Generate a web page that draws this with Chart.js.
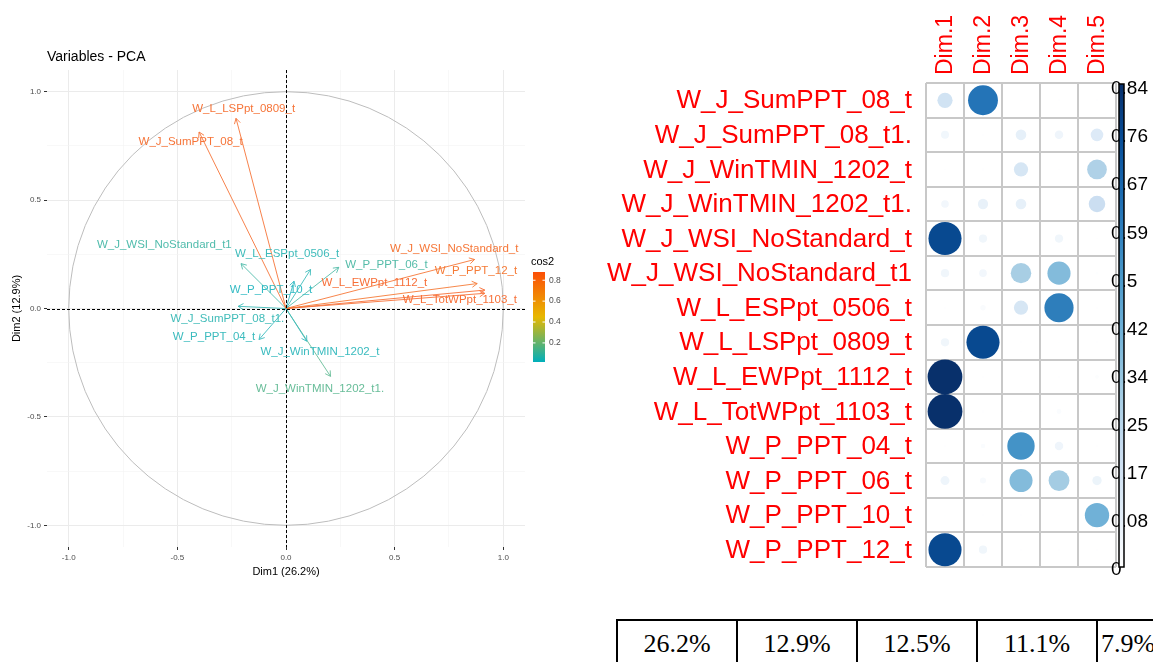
<!DOCTYPE html>
<html><head><meta charset="utf-8">
<script src="https://cdn.jsdelivr.net/npm/chart.js@4.4.0/dist/chart.umd.min.js"></script>
<style>
html,body{margin:0;padding:0;background:#fff;width:1153px;height:662px;overflow:hidden;position:relative}
#pca{position:absolute;left:0;top:0}
#corr{position:absolute;left:600px;top:0}
#var{position:absolute;left:616px;top:619px;width:602px;table-layout:fixed;border-collapse:collapse;font-family:'Liberation Serif','Times New Roman',serif;font-size:26px;color:#000}
#var td{border:2px solid #000;height:52px;padding:8px 0 0 0;text-align:center;vertical-align:top;white-space:nowrap;overflow:hidden}
#var td.last{text-align:left;padding-left:3px}
</style></head><body>
<canvas id="pca" width="600" height="600"></canvas>
<canvas id="corr" width="553" height="600"></canvas>
<table id="var"></table>
<script>
// ---------- PCA variables plot data ----------
const pcaVars = ['W_L_LSPpt_0809_t','W_J_SumPPT_08_t','W_J_WSI_NoStandard_t1','W_L_ESPpt_0506_t','W_P_PPT_06_t','W_P_PPT_10_t','W_J_WSI_NoStandard_t','W_P_PPT_12_t','W_L_EWPpt_1112_t','W_L_TotWPpt_1103_t','W_J_SumPPT_08_t1.','W_P_PPT_04_t','W_J_WinTMIN_1202_t','W_J_WinTMIN_1202_t1.'];
const dim1 = [-0.23,-0.40,-0.207,0.113,0.243,0.037,0.868,0.88,0.915,0.915,-0.22,-0.124,0.096,0.205];
const dim2 = [0.877,0.814,0.207,0.18,0.19,0.126,0.226,0.115,0.085,0.07,0.01,-0.143,-0.151,-0.313];
const labelX = [-0.195,-0.439,-0.56,0.005,0.462,-0.069,0.774,0.874,0.407,0.80,-0.27,-0.331,0.156,0.156];
const labelY = [0.919,0.767,0.292,0.254,0.20,0.088,0.273,0.176,0.119,0.038,-0.046,-0.131,-0.20,-0.371];
const pcaGridVals = [-1,-0.75,-0.5,-0.25,0,0.25,0.5,0.75,1];
const legendTicks = [0.2,0.4,0.6,0.8];
const pcaTitle = 'Variables - PCA';
const xTitle = 'Dim1 (26.2%)';
const yTitle = 'Dim2 (12.9%)';

// ---------- corrplot data (cos2 by dimension) ----------
const corrRows = ['W_J_SumPPT_08_t','W_J_SumPPT_08_t1.','W_J_WinTMIN_1202_t','W_J_WinTMIN_1202_t1.','W_J_WSI_NoStandard_t','W_J_WSI_NoStandard_t1','W_L_ESPpt_0506_t','W_L_LSPpt_0809_t','W_L_EWPpt_1112_t','W_L_TotWPpt_1103_t','W_P_PPT_04_t','W_P_PPT_06_t','W_P_PPT_10_t','W_P_PPT_12_t'];
const corrCols = ['Dim.1','Dim.2','Dim.3','Dim.4','Dim.5'];
const cosDim1 = [0.16,0.044,0.003,0.04,0.76,0.047,0.003,0.047,0.84,0.84,0.003,0.055,0.002,0.76];
const cosDim2 = [0.62,0.003,0.004,0.073,0.047,0.04,0.02,0.76,0.003,0.004,0.015,0.025,0.003,0.047];
const cosDim3 = [0.002,0.078,0.14,0.078,0.002,0.29,0.14,0.003,0.002,0.003,0.52,0.37,0.003,0.003];
const cosDim4 = [0.003,0.05,0.003,0.002,0.047,0.37,0.59,0.002,0.003,0.017,0.05,0.30,0.002,0.003];
const cosDim5 = [0.003,0.11,0.27,0.19,0.003,0.005,0.003,0.004,0.01,0.003,0.003,0.06,0.41,0.003];
const corrMax = 0.84;
const colorbarLabels = ['0','0.08','0.17','0.25','0.34','0.42','0.5','0.59','0.67','0.76','0.84'];

// ---------- variance table ----------
const varPct = ['26.2%','12.9%','12.5%','11.1%','7.9%'];

// ---------- helpers ----------
const PCA_GRAD = ['#00AFBB','#E7B800','#FC4E07'];
const BLUES = ['#FFFFFF','#DEEBF7','#C6DBEF','#9ECAE1','#6BAED6','#4292C6','#2171B5','#08519C','#08306B'];
function hex2rgb(h){return [1,3,5].map(i=>parseInt(h.substr(i,2),16));}
function rampRGB(stops,t){
  t=Math.max(0,Math.min(1,t));
  const n=stops.length-1, f=t*n, i=Math.min(Math.floor(f),n-1), u=f-i;
  const a=hex2rgb(stops[i]), b=hex2rgb(stops[i+1]);
  return a.map((c,k)=>c+(b[k]-c)*u);
}
const rgbStr = c => 'rgb('+c.map(Math.round).join(',')+')';
const ramp = (stops,t) => rgbStr(rampRGB(stops,t));
const cos2 = dim1.map((x,i)=>x*x+dim2[i]*dim2[i]);
const cMin = Math.min(...cos2), cMax = Math.max(...cos2);
const varColor = i => rgbStr(rampRGB(PCA_GRAD,(cos2[i]-cMin)/(cMax-cMin)).map(c=>c*0.78+230*0.22));
const isMajor = v => Math.abs(v*2-Math.round(v*2))<1e-9;
const SANS = "'Liberation Sans', Arial, sans-serif";

// ---------- PCA chart ----------
const pcaDecor = {
  id:'pcaDecor',
  beforeDatasetsDraw(chart){
    const {ctx, scales:{x,y}} = chart;
    const cx=x.getPixelForValue(0), cy=y.getPixelForValue(0);
    const rx=x.getPixelForValue(1)-cx, ry=cy-y.getPixelForValue(1);
    ctx.save();
    ctx.strokeStyle='#BDBDBD'; ctx.lineWidth=1;
    ctx.beginPath(); ctx.ellipse(cx,cy,rx,ry,0,0,Math.PI*2); ctx.stroke();
    ctx.restore();
  },
  afterDatasetsDraw(chart){
    const {ctx, scales:{x,y}, chartArea:a} = chart;
    const cx=x.getPixelForValue(0), cy=y.getPixelForValue(0);
    ctx.save();
    ctx.strokeStyle='#000'; ctx.lineWidth=1; ctx.setLineDash([3,2]);
    ctx.beginPath();
    ctx.moveTo(a.left,Math.round(cy)+0.5); ctx.lineTo(a.right,Math.round(cy)+0.5);
    ctx.moveTo(Math.round(cx)+0.5,a.top); ctx.lineTo(Math.round(cx)+0.5,a.bottom);
    ctx.stroke();
    ctx.setLineDash([]);
    chart.data.datasets.forEach((ds,i)=>{
      const pts = chart.getDatasetMeta(i).data;
      const p0=pts[0], p1=pts[1];
      const ang=Math.atan2(p1.y-p0.y,p1.x-p0.x), L=6, w=Math.PI/6;
      ctx.strokeStyle=varColor(i); ctx.lineWidth=0.9;
      ctx.beginPath();
      ctx.moveTo(p1.x-L*Math.cos(ang-w),p1.y-L*Math.sin(ang-w));
      ctx.lineTo(p1.x,p1.y);
      ctx.lineTo(p1.x-L*Math.cos(ang+w),p1.y-L*Math.sin(ang+w));
      ctx.stroke();
    });
    ctx.font='11.5px '+SANS; ctx.textAlign='center'; ctx.textBaseline='middle';
    pcaVars.forEach((name,i)=>{
      ctx.fillStyle=varColor(i);
      ctx.fillText(name,x.getPixelForValue(labelX[i]),y.getPixelForValue(labelY[i]));
    });
    ctx.restore();
  },
  afterDraw(chart){
    const {ctx} = chart;
    ctx.save();
    ctx.fillStyle='#000'; ctx.font='14px '+SANS; ctx.textAlign='left'; ctx.textBaseline='middle';
    ctx.fillText(pcaTitle,47,57);
    const lx=533, ly=272, lw=12, lh=90;
    const g=ctx.createLinearGradient(0,ly+lh,0,ly);
    for(let s=0;s<=20;s++) g.addColorStop(s/20,ramp(PCA_GRAD,s/20));
    ctx.fillStyle=g; ctx.fillRect(lx,ly,lw,lh);
    ctx.fillStyle='#000'; ctx.font='11px '+SANS; ctx.fillText('cos2',531,262);
    ctx.font='8.5px '+SANS;
    legendTicks.forEach(v=>{
      const py=ly+lh-(v-cMin)/(cMax-cMin)*lh*0.96;
      ctx.strokeStyle='#fff'; ctx.lineWidth=1;
      ctx.beginPath(); ctx.moveTo(lx,py); ctx.lineTo(lx+2.5,py); ctx.moveTo(lx+lw-2.5,py); ctx.lineTo(lx+lw,py); ctx.stroke();
      ctx.fillStyle='#4D4D4D'; ctx.fillText(v.toFixed(1),lx+lw+4,py);
    });
    ctx.restore();
  }
};

new Chart(document.getElementById('pca'),{
  type:'scatter',
  data:{datasets:pcaVars.map((n,i)=>({
    label:n, data:[{x:0,y:0},{x:dim1[i],y:dim2[i]}],
    showLine:true, borderColor:varColor(i), borderWidth:0.9, pointRadius:0, pointHoverRadius:0
  }))},
  options:{
    responsive:false, animation:false, events:[],
    layout:{padding:{left:0,right:75,top:70,bottom:0}},
    plugins:{legend:{display:false},tooltip:{enabled:false}},
    scales:{
      x:{type:'linear',min:-1.1,max:1.1,
        afterBuildTicks:ax=>{ax.ticks=pcaGridVals.map(v=>({value:v}));},
        afterFit:ax=>{ax.height=53;},
        ticks:{autoSkip:false,maxRotation:0,padding:3,color:'#4D4D4D',font:{size:8,family:SANS},callback:v=>isMajor(v)?v.toFixed(1):''},
        grid:{color:c=>isMajor(c.tick.value)?'#EBEBEB':'#F4F4F4',lineWidth:c=>isMajor(c.tick.value)?1:0.6,tickColor:c=>isMajor(c.tick.value)?'#333':'rgba(0,0,0,0)',tickLength:3},
        border:{display:false},
        title:{display:true,text:xTitle,color:'#000',font:{size:11,family:SANS},padding:{top:0,bottom:21}}
      },
      y:{type:'linear',min:-1.1,max:1.1,
        afterBuildTicks:ax=>{ax.ticks=pcaGridVals.map(v=>({value:v}));},
        afterFit:ax=>{ax.width=47;},
        ticks:{autoSkip:false,padding:3,color:'#4D4D4D',font:{size:8,family:SANS},callback:v=>isMajor(v)?v.toFixed(1):''},
        grid:{color:c=>isMajor(c.tick.value)?'#EBEBEB':'#F4F4F4',lineWidth:c=>isMajor(c.tick.value)?1:0.6,tickColor:c=>isMajor(c.tick.value)?'#333':'rgba(0,0,0,0)',tickLength:3},
        border:{display:false},
        title:{display:true,text:yTitle,color:'#000',font:{size:11,family:SANS},padding:{top:10,bottom:0}}
      }
    }
  },
  plugins:[pcaDecor]
});

// ---------- corrplot chart ----------
const cosCols=[cosDim1,cosDim2,cosDim3,cosDim4,cosDim5];
const corrPoints=[];
corrRows.forEach((row,i)=>corrCols.forEach((col,j)=>{
  const v=cosCols[j][i];
  corrPoints.push({x:col,y:row,v:v,r:17.4*Math.sqrt(v/corrMax)});
}));

const corrDecor={
  id:'corrDecor',
  afterDraw(chart){
    const {ctx,scales:{x,y},chartArea:a}=chart;
    ctx.save();
    ctx.fillStyle='#FF0000';
    ctx.font='26px '+SANS; ctx.textAlign='right'; ctx.textBaseline='middle';
    corrRows.forEach((r,i)=>ctx.fillText(r,a.left-14,y.getPixelForValue(i)+1));
    ctx.font='23px '+SANS; ctx.textAlign='left';
    corrCols.forEach((c,j)=>{
      ctx.save(); ctx.translate(x.getPixelForValue(j)+1,a.top-8); ctx.rotate(-Math.PI/2);
      ctx.fillText(c,0,0); ctx.restore();
    });
    const bx=a.right+3, bw=5, bt=a.top+1, bb=a.bottom;
    ctx.fillStyle='#000'; ctx.font='19px '+SANS; ctx.textAlign='left'; ctx.textBaseline='middle';
    colorbarLabels.forEach((t,k)=>{
      const py=bb+3-k/(colorbarLabels.length-1)*(bb+3-(bt+5));
      ctx.fillText(t,bx-8,py);
    });
    const g=ctx.createLinearGradient(0,bb,0,bt);
    for(let s=0;s<=20;s++) g.addColorStop(s/20,ramp(BLUES,s/20));
    ctx.fillStyle=g; ctx.fillRect(bx,bt,bw,bb-bt);
    ctx.strokeStyle='#000'; ctx.lineWidth=1.5; ctx.strokeRect(bx,bt,bw,bb-bt);
    ctx.restore();
  }
};

new Chart(document.getElementById('corr'),{
  type:'bubble',
  data:{datasets:[{data:corrPoints,backgroundColor:c=>ramp(BLUES,c.raw.v/corrMax),borderWidth:0,hoverRadius:0}]},
  options:{
    responsive:false, animation:false, events:[],
    layout:{padding:{left:326,right:37,top:83,bottom:33}},
    plugins:{legend:{display:false},tooltip:{enabled:false}},
    scales:{
      x:{type:'category',labels:corrCols,offset:true,
        grid:{offset:true,color:'#C8C8C8',lineWidth:2,drawTicks:false},
        border:{display:false},ticks:{display:false},afterFit:a=>{a.height=0;}},
      y:{type:'category',labels:corrRows,offset:true,
        grid:{offset:true,color:'#C8C8C8',lineWidth:2,drawTicks:false},
        border:{display:false},ticks:{display:false},afterFit:a=>{a.width=0;}}
    }
  },
  plugins:[corrDecor]
});

// ---------- table ----------
const tr=document.getElementById('var').insertRow();
varPct.forEach((p,i)=>{const td=tr.insertCell();td.textContent=p;if(i===varPct.length-1)td.className='last';});
</script>
</body></html>
